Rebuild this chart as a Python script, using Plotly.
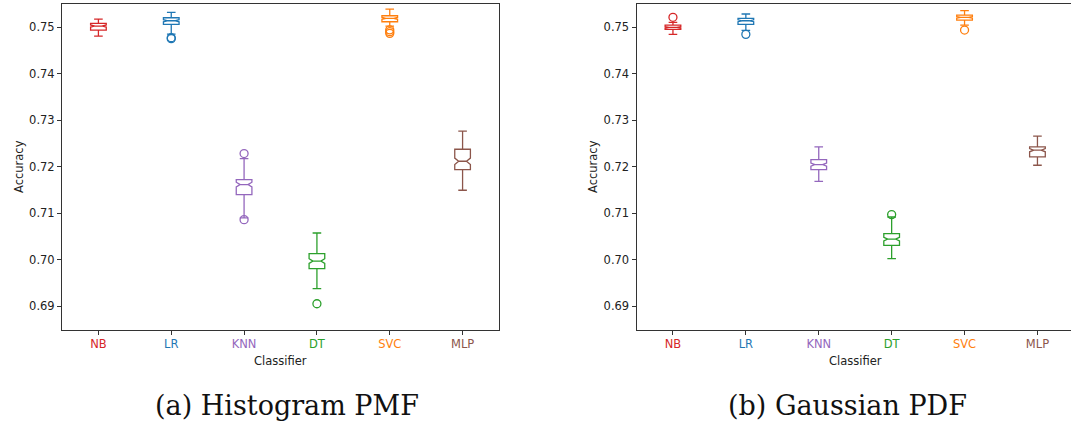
import plotly.graph_objects as go
import math

W, H = 1071, 428

classifiers = ["NB", "LR", "KNN", "DT", "SVC", "MLP"]
colors = ["#d62728", "#1f77b4", "#9467bd", "#2ca02c", "#ff7f0e", "#8c564b"]

# (a) Histogram PMF
pmf_q1 = [0.74935, 0.75058, 0.71402, 0.69811, 0.75114, 0.71940]
pmf_median = [0.75022, 0.75135, 0.71617, 0.69974, 0.75187, 0.72118]
pmf_q3 = [0.75080, 0.75200, 0.71725, 0.70133, 0.75243, 0.72376]
pmf_low = [0.74806, 0.74850, 0.70900, 0.69381, 0.75022, 0.71495]
pmf_high = [0.75172, 0.75316, 0.72176, 0.70577, 0.75387, 0.72763]
pmf_outliers = [[], [0.74770, 0.74750], [0.72284, 0.70864], [0.69058], [0.74940, 0.74900, 0.74865], []]

# (b) Gaussian PDF
pdf_q1 = [0.74950, 0.75058, 0.71940, 0.70312, 0.75150, 0.72211]
pdf_median = [0.74994, 0.75135, 0.72047, 0.70447, 0.75209, 0.72355]
pdf_q3 = [0.75043, 0.75187, 0.72155, 0.70563, 0.75258, 0.72426]
pdf_low = [0.74843, 0.74930, 0.71688, 0.70026, 0.75043, 0.72032]
pdf_high = [0.75101, 0.75280, 0.72426, 0.70921, 0.75351, 0.72656]
pdf_outliers = [[0.75209], [0.74843], [], [0.70972], [0.74935], []]

n_runs = 100
y_ticks = [0.69, 0.70, 0.71, 0.72, 0.73, 0.74, 0.75]

fig = go.Figure()

panels = [
    ("x", "y", pmf_q1, pmf_median, pmf_q3, pmf_low, pmf_high, pmf_outliers),
    ("x2", "y2", pdf_q1, pdf_median, pdf_q3, pdf_low, pdf_high, pdf_outliers),
]

for xa, ya, q1, med, q3, lo, hi, outs in panels:
    for i, name in enumerate(classifiers):
        pos = i + 1
        iqr = q3[i] - q1[i]
        fig.add_trace(go.Box(
            x=[pos], q1=[q1[i]], median=[med[i]], q3=[q3[i]],
            lowerfence=[lo[i]], upperfence=[hi[i]],
            notchspan=[1.57 * iqr / math.sqrt(n_runs)],
            notched=True, notchwidth=0.25, width=0.215, whiskerwidth=0.55,
            boxpoints=False,
            line=dict(color=colors[i], width=1.3),
            fillcolor="rgba(255,255,255,0)",
            xaxis=xa, yaxis=ya, showlegend=False, hoverinfo="skip",
        ))
        if outs[i]:
            fig.add_trace(go.Scatter(
                x=[pos] * len(outs[i]), y=outs[i], mode="markers",
                marker=dict(symbol="circle-open", size=8, color=colors[i],
                            line=dict(width=1.3, color=colors[i])),
                xaxis=xa, yaxis=ya, showlegend=False, hoverinfo="skip",
            ))

tick_text = [f'<span style="color:{c}">{t}</span>' for t, c in zip(classifiers, colors)]
axis_col = "#333333"
tick_font = dict(family="DejaVu Sans", size=11.5, color="#222222")

y_dom = [(H - 329.5) / H, (H - 4) / H]
y_rng = [0.68505, 0.75495]

common_x = dict(tickmode="array", tickvals=list(range(1, 7)), ticktext=tick_text,
                showgrid=False, zeroline=False, showline=True, linecolor=axis_col,
                linewidth=1, ticks="outside", ticklen=4, tickwidth=1, tickcolor=axis_col,
                tickfont=tick_font)
common_y = dict(range=y_rng, domain=y_dom, tickmode="array", tickvals=y_ticks,
                ticktext=[f"{v:.2f}" for v in y_ticks],
                showgrid=False, zeroline=False, showline=True, linecolor=axis_col,
                linewidth=1, ticks="outside", ticklen=4, tickwidth=1, tickcolor=axis_col,
                tickfont=tick_font)

fig.update_layout(
    width=W, height=H, margin=dict(l=0, r=0, t=0, b=0),
    paper_bgcolor="white", plot_bgcolor="white",
    xaxis=dict(common_x, domain=[62 / W, 499 / W], range=[0.5, 6.5], anchor="y", mirror=True),
    yaxis=dict(common_y, anchor="x", mirror=True),
    xaxis2=dict(common_x, domain=[636.5 / W, 1.0], range=[0.5, 0.5 + (W - 636.5) / 72.9],
                anchor="y2", mirror=True),
    yaxis2=dict(common_y, anchor="x2", mirror=False),
)

label_font = dict(family="DejaVu Sans", size=11.5, color="#222222")
cap_font = dict(family="DejaVu Serif", size=27, color="#111111")
ann = []
for cx, ylab_x in [((62 + 499) / 2, 19), ((636.5 + 1073.5) / 2, 593)]:
    ann.append(dict(x=cx / W, y=(H - 361) / H, xref="paper", yref="paper",
                    text="Classifier", showarrow=False, font=label_font,
                    xanchor="center", yanchor="middle"))
    ann.append(dict(x=ylab_x / W, y=(H - 167) / H, xref="paper", yref="paper",
                    text="Accuracy", showarrow=False, font=label_font, textangle=-90,
                    xanchor="center", yanchor="middle"))
cap_centers = [286.5, 847.5]
for cx, cap in zip(cap_centers, ["(a) Histogram PMF", "(b) Gaussian PDF"]):
    ann.append(dict(x=cx / W, y=(H - 405) / H, xref="paper", yref="paper",
                    text=cap, showarrow=False, font=cap_font,
                    xanchor="center", yanchor="middle"))
fig.update_layout(annotations=ann)

fig.write_html("out.html", config={"displayModeBar": False})
